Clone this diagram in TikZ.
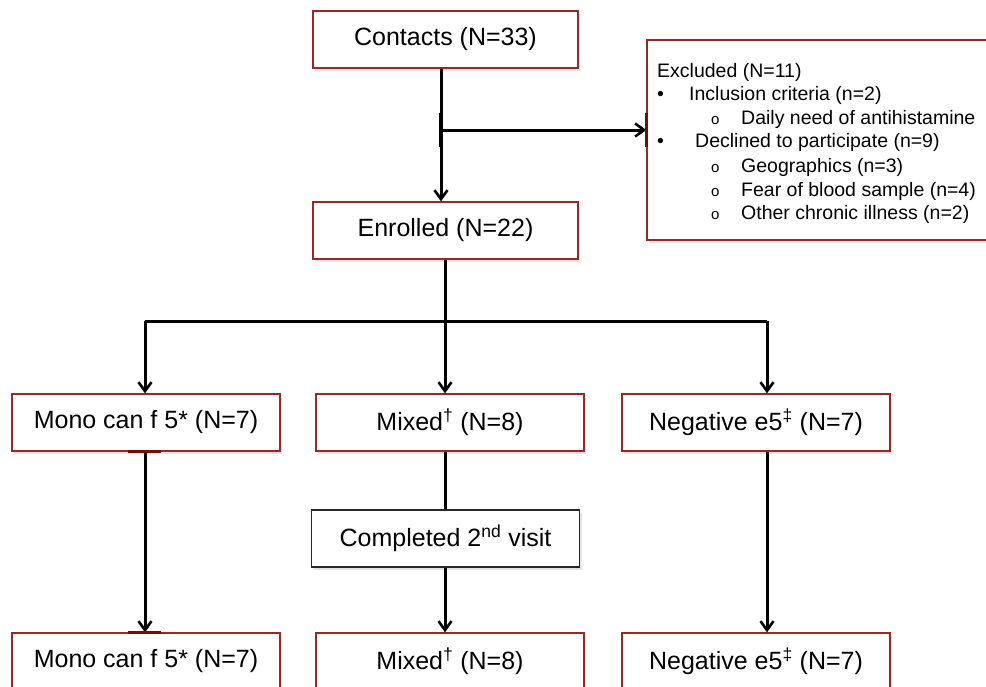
\documentclass[tikz,border=0pt]{standalone}
\usepackage{fontspec}
\setmainfont{Liberation Sans}
\usetikzlibrary{arrows.meta,shadows}
\definecolor{boxred}{RGB}{150,40,40}
\definecolor{tickred}{RGB}{120,10,10}
\tikzset{
  box/.style={draw=boxred, line width=1.3pt, fill=white, minimum height=57pt,
    inner sep=0pt, font=\fontsize{25}{30}\selectfont,
    drop shadow={shadow xshift=2pt, shadow yshift=-2.5pt, fill=black!18, opacity=0.6}},
  blackbox/.style={box, draw=black!85},
  conn/.style={line width=3pt, black},
  arr/.style={conn, -{Straight Barb[length=9pt, width=13pt, line width=2.6pt]}},
  extxt/.style={anchor=base west, inner sep=0pt, font=\fontsize{19.5}{23}\selectfont},
  subbul/.style={anchor=base west, inner sep=0pt, font=\fontsize{15}{18}\selectfont},
  tick/.style={line width=3.2pt, tickred},
}
\begin{document}
\begin{tikzpicture}[x=1pt, y=-1pt]
\useasboundingbox (0,0) rectangle (986,686);
\clip (0,0) rectangle (986,686);

% top boxes
\node[box, minimum width=265pt] (contacts) at (445.5,39.5) {Contacts (N=33)};
\node[box, minimum width=265pt] (enrolled) at (445.5,230.5) {Enrolled (N=22)};
\node[box, minimum width=360pt, minimum height=200pt] (excluded) at (827,140) {};

% excluded text
\node[extxt] (ex0) at (657,77) {Excluded (N=11)};
\node[extxt] (ex1b) at (657,100) {\textbullet};
\node[extxt] (ex1) at (689,100) {Inclusion criteria (n=2)};
\node[subbul] (ex2b) at (711,124) {o};
\node[extxt] (ex2) at (741,124) {Daily need of antihistamine};
\node[extxt] (ex3b) at (657,147) {\textbullet};
\node[extxt] (ex3) at (695,147) {Declined to participate (n=9)};
\node[subbul] (ex4b) at (711,172) {o};
\node[extxt] (ex4) at (741,172) {Geographics (n=3)};
\node[subbul] (ex5b) at (711,196) {o};
\node[extxt] (ex5) at (741,196) {Fear of blood sample (n=4)};
\node[subbul] (ex6b) at (711,219) {o};
\node[extxt] (ex6) at (741,219) {Other chronic illness (n=2)};

% middle row
\node[box, minimum width=268pt] (mono) at (146,422.5) {Mono can f 5* (N=7)};
\node[box, minimum width=268pt] (mixed) at (450,422.5) {Mixed\textsuperscript{†} (N=8)};
\node[box, minimum width=268pt] (neg) at (756,422.5) {Negative e5\textsuperscript{‡} (N=7)};

\node[blackbox, minimum width=268pt] (completed) at (445.5,538.5) {Completed 2\textsuperscript{nd} visit};

% bottom row
\node[box, minimum width=268pt] (mono2) at (146,661.5) {Mono can f 5* (N=7)};
\node[box, minimum width=268pt] (mixed2) at (450,661.5) {Mixed\textsuperscript{†} (N=8)};
\node[box, minimum width=268pt] (neg2) at (756,661.5) {Negative e5\textsuperscript{‡} (N=7)};

% coordinates
\coordinate (branch) at (441,130);
\coordinate (busM) at (445,321);
\coordinate (busL) at (145,321);
\coordinate (busR) at (767,321);

% connectors top
\draw[arr] (contacts.south -| branch) -- (branch |- enrolled.north);
\draw[arr] (branch) -- (branch -| excluded.west);
\draw[conn] (enrolled.south -| busM) -- (busM);
\draw[conn] (busL) -- (busR);
\draw[arr] (busL) -- (busL |- mono.north);
\draw[arr] (busM) -- (busM |- mixed.north);
\draw[arr] (busR) -- (busR |- neg.north);

% connectors lower
\draw[arr] (mono.south -| busL) -- (busL |- mono2.north);
\draw[conn] (mixed.south -| busM) -- (busM |- completed.north);
\draw[arr] (completed.south -| busM) -- (busM |- mixed2.north);
\draw[arr] (neg.south -| busR) -- (busR |- neg2.north);

% small marks
\draw[line width=4.5pt, black] (441,113) -- (441,147);
\draw[tick] (excluded.west |- 0,113) -- (excluded.west |- 0,147);
\draw[tick] (mono.south -| 128,0) -- (mono.south -| 161,0);
\draw[tick] (mono2.north -| 128,0) -- (mono2.north -| 161,0);
\end{tikzpicture}
\end{document}
